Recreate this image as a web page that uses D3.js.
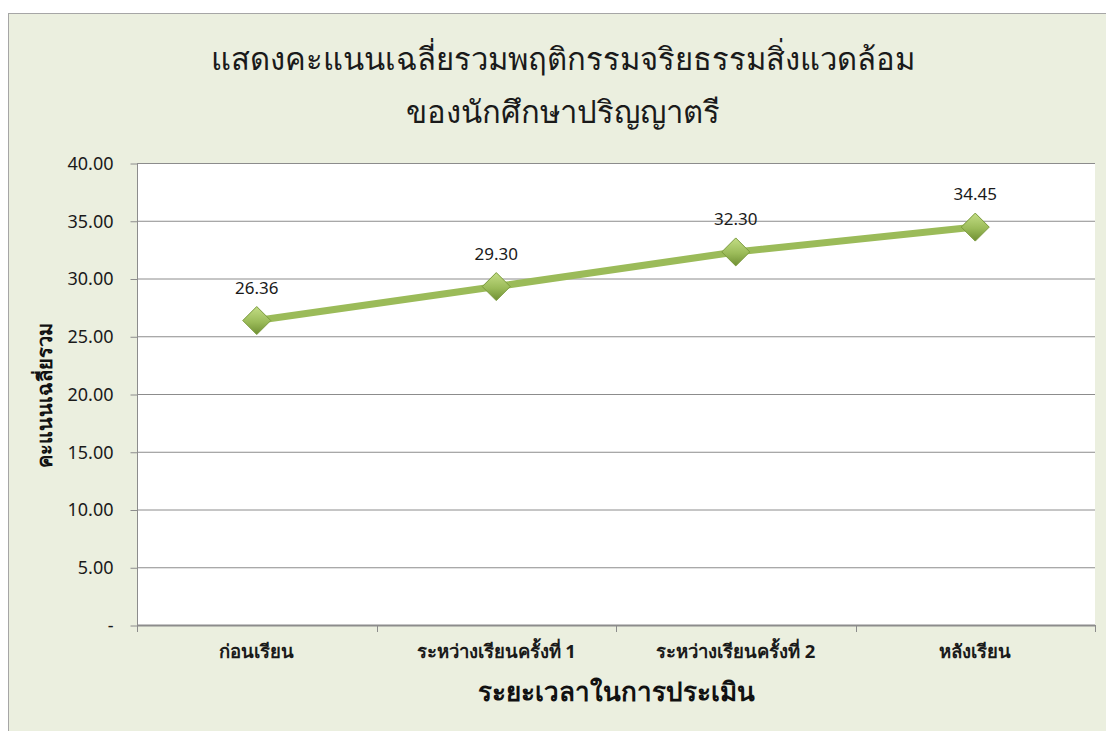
<!DOCTYPE html>
<html>
<head>
<meta charset="utf-8">
<script src="https://cdn.jsdelivr.net/npm/d3@7"></script>
<style>
  body { margin: 0; background: #fff; }
  text { font-family: Tahoma, "Noto Sans", "DejaVu Sans", sans-serif; }
</style>
</head>
<body>
<div id="chart"></div>
<script>
const categories = ["ก่อนเรียน", "ระหว่างเรียนครั้งที่ 1", "ระหว่างเรียนครั้งที่ 2", "หลังเรียน"];
const scores = [26.36, 29.30, 32.30, 34.45];
const yTicks = [0, 5, 10, 15, 20, 25, 30, 35, 40];
const titleLines = ["แสดงคะแนนเฉลี่ยรวมพฤติกรรมจริยธรรมสิ่งแวดล้อม", "ของนักศึกษาปริญญาตรี"];
const yTitle = "คะแนนเฉลี่ยรวม";
const xTitle = "ระยะเวลาในการประเมิน";

const width = 1106, height = 731;
const plot = { left: 137, right: 1095, top: 163, bottom: 625 };

const svg = d3.select("#chart").append("svg")
  .attr("width", width)
  .attr("height", height);

// chart background
svg.append("rect")
  .attr("x", 8.5).attr("y", 13.5)
  .attr("width", width).attr("height", height)
  .attr("fill", "#ebefdf")
  .attr("stroke", "#a6a6a6");

svg.append("rect")
  .attr("x", plot.left).attr("y", plot.top)
  .attr("width", plot.right - plot.left).attr("height", plot.bottom - plot.top)
  .attr("fill", "#fff");

const x = d3.scaleBand().domain(categories).range([plot.left, plot.right]);
const y = d3.scaleLinear().domain([0, 40]).range([plot.bottom, plot.top]);

// gridlines
svg.append("g")
  .selectAll("line")
  .data(yTicks.filter(d => d > 0))
  .join("line")
  .attr("x1", plot.left).attr("x2", plot.right)
  .attr("y1", d => y(d) + 0.5).attr("y2", d => y(d) + 0.5)
  .attr("stroke", "#8c8c8c");

// y axis
const yAxis = svg.append("g")
  .attr("transform", `translate(${plot.left + 0.5},0.5)`)
  .call(d3.axisLeft(y).tickValues(yTicks).tickSize(7).tickPadding(17)
    .tickFormat(d => d === 0 ? "-" : d3.format(".2f")(d)));
yAxis.select(".domain").attr("stroke", "#8c8c8c").attr("d", `M0,${plot.top}V${plot.bottom}`);
yAxis.selectAll(".tick line").attr("stroke", "#8c8c8c");
yAxis.selectAll(".tick text").attr("font-size", 18).attr("fill", "#1a1a1a");

// x axis
const xAxis = svg.append("g")
  .attr("transform", `translate(0,${plot.bottom + 0.5})`)
  .call(d3.axisBottom(x).tickSize(0).tickPadding(19));
xAxis.select(".domain").attr("stroke", "#8c8c8c").attr("stroke-width", 2).attr("d", `M${plot.left},0H${plot.right}`);
xAxis.selectAll(".tick text").attr("font-size", 18.5).attr("font-weight", "bold").attr("fill", "#1a1a1a");
svg.append("g")
  .selectAll("line")
  .data(d3.range(categories.length + 1))
  .join("line")
  .attr("x1", i => Math.round(plot.left + i * x.bandwidth()) + 0.5)
  .attr("x2", i => Math.round(plot.left + i * x.bandwidth()) + 0.5)
  .attr("y1", plot.bottom).attr("y2", plot.bottom + 7)
  .attr("stroke", "#8c8c8c");

// title
svg.append("text")
  .attr("x", 563).attr("text-anchor", "middle")
  .attr("font-size", 31).attr("fill", "#1a1a1a")
  .selectAll("tspan")
  .data(titleLines)
  .join("tspan")
  .attr("x", 563)
  .attr("y", (d, i) => 70 + i * 53)
  .text(d => d);

svg.append("text")
  .attr("transform", "translate(52,395) rotate(-90)")
  .attr("text-anchor", "middle")
  .attr("font-size", 20).attr("font-weight", "bold").attr("fill", "#111")
  .text(yTitle);

svg.append("text")
  .attr("x", 616).attr("y", 701)
  .attr("text-anchor", "middle")
  .attr("font-size", 26).attr("font-weight", "bold").attr("fill", "#111")
  .text(xTitle);

// line
const cx = d => x(d) + x.bandwidth() / 2;
svg.append("path")
  .datum(scores)
  .attr("fill", "none")
  .attr("stroke", "#9bbb59")
  .attr("stroke-width", 7)
  .attr("d", d3.line().x((d, i) => cx(categories[i])).y(d => y(d)));

const defs = svg.append("defs");
const grad = defs.append("linearGradient").attr("id", "mk")
  .attr("x1", "0").attr("y1", "0").attr("x2", "0").attr("y2", "1");
grad.append("stop").attr("offset", "0%").attr("stop-color", "#c3dd85");
grad.append("stop").attr("offset", "55%").attr("stop-color", "#9bbb59");
grad.append("stop").attr("offset", "100%").attr("stop-color", "#6f8f33");

svg.append("g")
  .selectAll("path")
  .data(scores)
  .join("path")
  .attr("transform", (d, i) => `translate(${cx(categories[i])},${y(d)})`)
  .attr("d", "M0,-14L14,0L0,14L-14,0Z")
  .attr("fill", "url(#mk)")
  .attr("stroke", "#7a9a3c")
  .attr("stroke-width", 1);

svg.append("g")
  .selectAll("text")
  .data(scores)
  .join("text")
  .attr("x", (d, i) => cx(categories[i]))
  .attr("y", d => y(d) - 27)
  .attr("text-anchor", "middle")
  .attr("font-size", 17).attr("fill", "#1a1a1a")
  .text(d => d3.format(".2f")(d));
</script>
</body>
</html>
